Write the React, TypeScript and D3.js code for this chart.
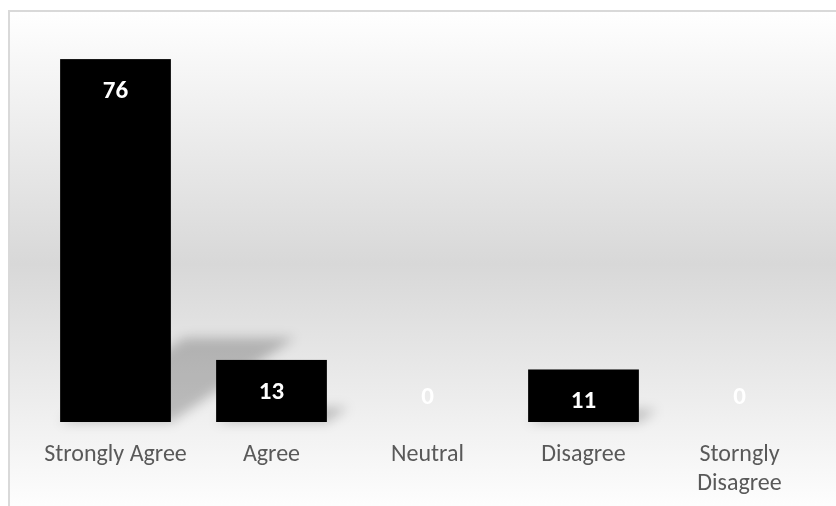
import React from "react";
import * as d3 from "d3";

const categories: string[] = ["Strongly Agree", "Agree", "Neutral", "Disagree", "Storngly Disagree"];
const values: number[] = [76, 13, 0, 11, 0];
const categoryLines: string[][] = [["Strongly Agree"], ["Agree"], ["Neutral"], ["Disagree"], ["Storngly", "Disagree"]];

const W = 836;
const H = 506;

export default function App() {
  const x = d3.scaleBand<string>().domain(categories).range([37.5, 817.5]).paddingInner(0.29).paddingOuter(0.145);
  const y = d3.scaleLinear().domain([0, 80]).range([422, 40]);
  const base = y(0);
  const font = "Carlito, Calibri, Lato, 'Open Sans', sans-serif";

  return (
    <svg width={W} height={H} style={{ position: "absolute", left: 0, top: 0 }}>
      <defs>
        <linearGradient id="bg" x1="0" y1="0" x2="0" y2="1">
          <stop offset="0" stopColor="#ffffff" />
          <stop offset="0.5" stopColor="#d8d8d8" />
          <stop offset="1" stopColor="#ffffff" />
        </linearGradient>
        <filter id="blur" x="-50%" y="-50%" width="200%" height="200%">
          <feGaussianBlur stdDeviation="6" />
        </filter>
      </defs>
      <rect x={0} y={0} width={W} height={H} fill="#ffffff" />
      <rect x={9} y={11} width={W} height={H} fill="url(#bg)" stroke="#d9d9d9" strokeWidth={2} />
      <g filter="url(#blur)">
        {categories.map((c, i) => {
          const h = base - y(values[i]);
          if (h <= 0) return null;
          const x0 = x(c)!;
          const x1 = x0 + x.bandwidth();
          const dx = 0.342 * h;
          const dy = 0.232 * h;
          const pts = [
            [x0, base],
            [x1, base],
            [x1 + dx, base - dy],
            [x0 + dx, base - dy],
          ];
          return <polygon key={c} points={pts.map((p) => p.join(",")).join(" ")} fill="#000" opacity={0.22} />;
        })}
      </g>
      {categories.map((c, i) => (
        <rect key={c} x={x(c)} y={y(values[i])} width={x.bandwidth()} height={base - y(values[i])} fill="#000000" />
      ))}
      {categories.map((c, i) => {
        const cy = values[i] > 0 ? y(values[i]) + 30 : base - 27;
        return (
          <text
            key={c}
            x={x(c)! + x.bandwidth() / 2}
            y={cy}
            dy="0.35em"
            textAnchor="middle"
            fill="#ffffff"
            fontFamily={font}
            fontWeight="bold"
            fontSize={25}
          >
            {values[i]}
          </text>
        );
      })}
      {categories.map((c, i) => (
        <text key={c} x={x(c)! + x.bandwidth() / 2} y={461} textAnchor="middle" fill="#595959" fontFamily={font} fontSize={24}>
          {categoryLines[i].map((line, j) => (
            <tspan key={j} x={x(c)! + x.bandwidth() / 2} dy={j === 0 ? 0 : 28.5}>
              {line}
            </tspan>
          ))}
        </text>
      ))}
    </svg>
  );
}
